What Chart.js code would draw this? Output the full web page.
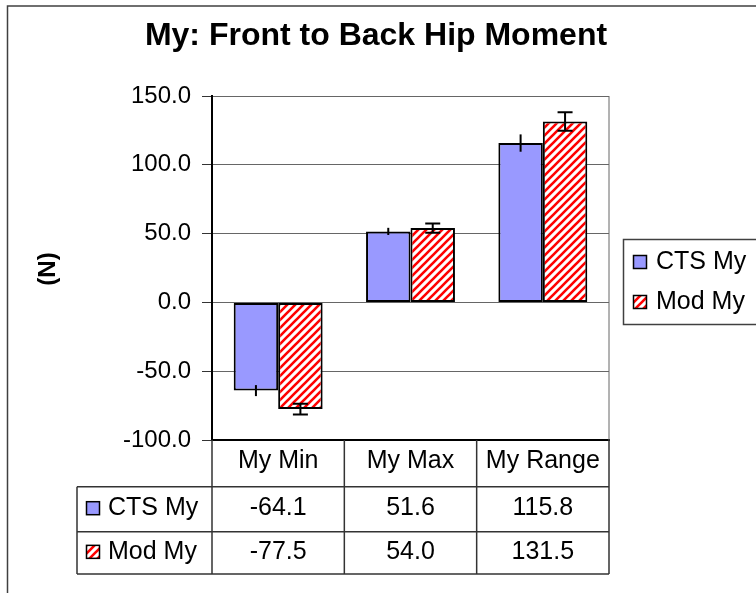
<!DOCTYPE html>
<html>
<head>
<meta charset="utf-8">
<script src="https://cdn.jsdelivr.net/npm/chart.js@4.4.0/dist/chart.umd.min.js"></script>
<style>
  body { margin: 0; background: #fff; }
  canvas { display: block; }
</style>
</head>
<body>
<canvas id="c" width="756" height="593"></canvas>
<script>
const categories = ['My Min', 'My Max', 'My Range'];
const seriesNames = ['CTS My', 'Mod My'];
const ctsValues = [-64.1, 51.6, 115.8];
const modValues = [-77.5, 54.0, 131.5];
const ctsErrors = [4.0, 2.6, 6.3];
const modErrors = [3.9, 3.4, 6.7];
const tableText = [['-64.1', '51.6', '115.8'], ['-77.5', '54.0', '131.5']];

const FONT = 'Arial, "Liberation Sans", sans-serif';
const canvas = document.getElementById('c');
const ctx = canvas.getContext('2d');

function makeHatch() {
    const tile = document.createElement('canvas');
    tile.width = 8;
    tile.height = 8;
    const g = tile.getContext('2d');
    g.fillStyle = '#ffffff';
    g.fillRect(0, 0, 8, 8);
    g.strokeStyle = '#ff0000';
    g.lineWidth = 2.6;
    g.beginPath();
    g.moveTo(-1, 9); g.lineTo(9, -1);
    g.moveTo(-3, 3); g.lineTo(3, -3);
    g.moveTo(5, 11); g.lineTo(11, 5);
    g.stroke();
    return ctx.createPattern(tile, 'repeat');
}
const hatch = makeHatch();
const ctsColor = '#9999ff';

// error bars: caps only on the Mod series
const errorBars = {
    id: 'errorBars',
    afterDatasetsDraw(chart) {
        const y = chart.scales.y;
        const c = chart.ctx;
        const errs = [ctsErrors, modErrors];
        const caps = [0, 15];
        c.save();
        c.strokeStyle = '#000';
        c.lineWidth = 2;
        chart.data.datasets.forEach((ds, di) => {
            const meta = chart.getDatasetMeta(di);
            meta.data.forEach((bar, i) => {
                const v = ds.data[i];
                const e = errs[di][i];
                const y1 = y.getPixelForValue(v + e);
                const y2 = y.getPixelForValue(v - e);
                c.beginPath();
                c.moveTo(bar.x, y1); c.lineTo(bar.x, y2);
                if (caps[di]) {
                    c.moveTo(bar.x - caps[di] / 2, y1); c.lineTo(bar.x + caps[di] / 2, y1);
                    c.moveTo(bar.x - caps[di] / 2, y2); c.lineTo(bar.x + caps[di] / 2, y2);
                }
                c.stroke();
            });
        });
        c.restore();
    }
};

function swatch(c, x, y, fill) {
    c.fillStyle = fill;
    c.fillRect(x, y, 13, 13);
    c.strokeStyle = '#000';
    c.lineWidth = 1.5;
    c.strokeRect(x, y, 13, 13);
}

const extras = {
    id: 'extras',
    afterDraw(chart) {
        const c = chart.ctx;
        const a = chart.chartArea;
        const x = chart.scales.x;
        const n = categories.length;
        const cw = (a.right - a.left) / n;
        const fills = [ctsColor, hatch];
        c.save();

        // outer frame
        c.strokeStyle = '#404040';
        c.lineWidth = 1.5;
        c.strokeRect(7.5, 6, 760, 600);

        // title
        c.fillStyle = '#000';
        c.font = 'bold 32px ' + FONT;
        c.textAlign = 'center';
        c.textBaseline = 'middle';
        c.fillText('My: Front to Back Hip Moment', 376, 36);

        // plot area right edge
        c.strokeStyle = '#666';
        c.lineWidth = 1;
        c.beginPath();
        c.moveTo(a.right, a.top); c.lineTo(a.right, a.bottom);
        c.stroke();

        // data table
        const rowTop = a.bottom;
        const rows = [rowTop, rowTop + 46.7, rowTop + 91.7, rowTop + 134];
        const tableLeft = 77;
        c.strokeStyle = '#333';
        c.lineWidth = 1.5;
        c.beginPath();
        for (let r = 1; r < rows.length; r++) {
            c.moveTo(tableLeft, rows[r]); c.lineTo(a.right, rows[r]);
        }
        c.moveTo(tableLeft, rows[1]); c.lineTo(tableLeft, rows[3]);
        for (let i = 0; i <= n; i++) {
            const bx = a.left + i * cw;
            c.moveTo(bx, rows[0]); c.lineTo(bx, rows[3]);
        }
        c.stroke();

        c.fillStyle = '#000';
        c.font = '25px ' + FONT;
        c.textBaseline = 'middle';
        c.textAlign = 'center';
        categories.forEach((lab, i) => {
            c.fillText(lab, x.getPixelForValue(i), (rows[0] + rows[1]) / 2 - 2);
        });
        tableText.forEach((row, r) => {
            const cy = (rows[r + 1] + rows[r + 2]) / 2 - 1;
            row.forEach((t, i) => {
                c.fillStyle = '#000';
                c.textAlign = 'center';
                c.fillText(t, x.getPixelForValue(i), cy);
            });
            swatch(c, 86.5, cy - 6.5, fills[r]);
            c.fillStyle = '#000';
            c.textAlign = 'left';
            c.fillText(seriesNames[r], 108, cy);
        });

        // legend
        c.strokeStyle = '#404040';
        c.lineWidth = 1.5;
        c.strokeRect(623.5, 239.5, 150, 85);
        const ly = [262, 302];
        seriesNames.forEach((name, r) => {
            swatch(c, 633.5, ly[r] - 6.5, fills[r]);
            c.fillStyle = '#000';
            c.textAlign = 'left';
            c.fillText(name, 656, ly[r]);
        });

        // y axis title
        c.translate(48, 269);
        c.rotate(-Math.PI / 2);
        c.font = 'bold 24px ' + FONT;
        c.textAlign = 'center';
        c.fillText('(N)', 0, 0);
        c.restore();
    }
};

new Chart(ctx, {
    type: 'bar',
    data: {
        labels: categories,
        datasets: [{
            label: seriesNames[0],
            data: ctsValues,
            backgroundColor: ctsColor,
            borderColor: '#000',
            borderWidth: 2,
            borderSkipped: false
        }, {
            label: seriesNames[1],
            data: modValues,
            backgroundColor: hatch,
            borderColor: '#000',
            borderWidth: 2,
            borderSkipped: false
        }]
    },
    options: {
        responsive: false,
        animation: false,
        events: [],
        layout: { padding: { left: 110, right: 147, top: 96, bottom: 153 } },
        datasets: { bar: { categoryPercentage: 0.672, barPercentage: 1.0 } },
        plugins: {
            legend: { display: false },
            tooltip: { enabled: false },
            title: { display: false }
        },
        scales: {
            x: {
                ticks: { display: false },
                grid: { display: false },
                border: { color: '#000', width: 2 },
                afterFit(scale) { scale.height = 0; }
            },
            y: {
                min: -100,
                max: 150,
                ticks: {
                    stepSize: 50,
                    padding: 11,
                    color: '#000',
                    font: { family: FONT, size: 24 },
                    callback: v => v.toFixed(1)
                },
                grid: { color: '#666', lineWidth: 1, tickLength: 10, tickColor: '#333' },
                border: { color: '#000', width: 2 },
                afterFit(scale) { scale.width = 102; }
            }
        }
    },
    plugins: [errorBars, extras]
});
</script>
</body>
</html>
